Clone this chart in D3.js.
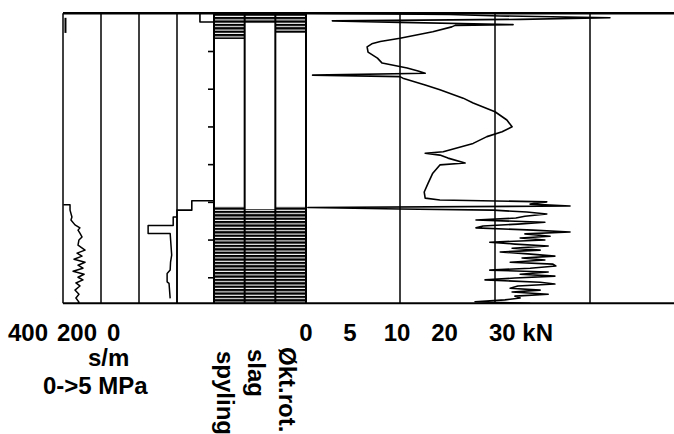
<!DOCTYPE html>
<html>
<head>
<meta charset="utf-8">
<script src="https://cdn.jsdelivr.net/npm/d3@7"></script>
<style>
body { margin: 0; background: #fff; }
svg { display: block; }
text { font-family: "Liberation Sans", Arial, sans-serif; font-weight: bold; fill: #000; }
</style>
</head>
<body>
<svg></svg>
<script>
const SVG_WIDTH = 674;
const SVG_HEIGHT = 434;
const TOP = 13.3;
const BOTTOM = 303.3;
const LEFT = 63;
const RIGHT = 674;
const LABEL_Y = 341;
const FONT = 24;
const SM_LABEL_X = [8, 57, 107];

// depth in m
const maxDepth = 7.69;
const depthTicks = [1, 2, 3, 4, 5, 6, 7];

// penetration time s/m (left column)
const smTicks = [400, 200, 0];
const smDepth = [5.08, 5.08, 5.22, 5.40, 5.48, 5.61, 5.69, 5.75, 5.83, 5.93, 6.01, 6.15, 6.28, 6.36, 6.44, 6.52, 6.60, 6.68, 6.76, 6.84, 6.92, 7.00, 7.07, 7.15, 7.23, 7.34, 7.45, 7.55, 7.66, 7.69];
const smValue = [398, 363, 363, 353, 358, 337, 311, 321, 311, 300, 316, 321, 284, 326, 300, 342, 284, 321, 295, 347, 289, 321, 295, 332, 311, 337, 316, 332, 316, 321];
const smTopDepth = [0.12, 0.52];
const smTopValue = [387, 387];

// pressure 0->5 MPa
const mpaDepth = [5.40, 5.40, 5.63, 5.63, 5.84, 5.84, 6.41, 6.60, 6.81, 6.90, 7.12, 7.16, 7.56];
const mpaValue = [0, 0.5, 0.5, 3.8, 3.8, 0.9, 0.7, 0.85, 0.9, 1.3, 1.3, 1.05, 0.9];

// layer step profile
const stepDepth = [0, 0.23, 0.23, 4.97, 4.97, 5.22, 5.22, 7.69];
const stepValue = [0.38, 0.38, 0, 0, 0.6, 0.6, 1, 1];

// flushing / hammering / increased rotation intervals
const hatchColumns = ["spyling", "slag", "Økt.rot."];
const hatchFrom = [[0, 5.13], [0, 5.19], [0, 5.13]];
const hatchTo = [[0.68, 7.69], [0.26, 7.69], [0.52, 7.69]];

// feed force kN
const forceTicks = [0, 5, 10, 20, 30];
const forceUnit = "kN";
const forceDepth = [0.00, 0.03, 0.07, 0.12, 0.16, 0.20, 0.24, 0.30, 0.32, 0.36, 0.49, 0.66, 0.75, 0.81, 0.89, 1.03, 1.19, 1.32, 1.45, 1.53, 1.59, 1.64, 1.68, 1.72, 1.90, 2.03, 2.25, 2.38, 2.61, 2.83, 3.01, 3.14, 3.27, 3.45, 3.67, 3.71, 3.76, 3.84, 3.97, 4.02, 4.24, 4.51, 4.74, 4.90, 4.95, 5.00, 5.06, 5.11, 5.15, 5.19, 5.22,
  5.27, 5.32, 5.38, 5.43, 5.48, 5.54, 5.59, 5.64, 5.69, 5.75, 5.80, 5.85, 5.91, 5.96, 6.01, 6.07, 6.12, 6.17, 6.23, 6.28, 6.33, 6.38, 6.44, 6.49, 6.54, 6.60, 6.65, 6.70, 6.76, 6.81, 6.86, 6.92, 6.97, 7.02, 7.07, 7.13, 7.18, 7.23, 7.29, 7.34, 7.39, 7.45, 7.50, 7.55, 7.60, 7.65, 7.69];
const forceKN = [0, 20.5, 31.1, 54.2, 35.3, 2.8, 10, 33.8, 21.6, 20.9, 16.9, 10, 7.9, 7.0, 6.5, 6.6, 7.6, 8.1, 11.5, 13.8, 15.3, 0.7, 10, 10.6, 15.3, 18.4, 23.3, 25.4, 30, 32.5, 33.6, 31.5, 28.3, 25.4, 19.1, 15.3, 18.4, 20.1, 23.7, 18.4, 16.9, 15.9, 15.1, 15.3, 18.4, 40.9, 37.4, 45.8, 0.2, 10, 29.6,
  36.7, 40.9, 36.3, 34.4, 26.0, 40.5, 34.8, 27.5, 26.0, 38.0, 45.8, 36.3, 41.6, 35.3, 40.5, 28.9, 34.2, 41.2, 33.6, 39.5, 31.1, 36.9, 42.6, 35.7, 40.5, 33.2, 42.2, 42.8, 37.4, 28.9, 41.2, 35.3, 42.6, 34.2, 27.9, 39.5, 42.6, 34.8, 33.2, 39.5, 33.6, 41.2, 34.2, 35.3, 32.1, 25.8, 37.4];

const svg = d3.select("svg").attr("width", SVG_WIDTH).attr("height", SVG_HEIGHT);

const yScale = d3.scaleLinear().domain([0, maxDepth]).range([TOP, BOTTOM]);
const smScale = d3.scaleLinear().domain([0, 400]).range([139, 63]);
const mpaScale = d3.scaleLinear().domain([0, 5]).range([177, 139]);
const stepScale = d3.scaleLinear().domain([0, 1]).range([214, 177]);
const hatchScale = d3.scaleBand().domain(hatchColumns).range([214, 306]);
const forceScale = d3.scaleLinear().domain([0, 10, 30, 50]).range([306, 400, 495, 590]);

// hatch pattern
svg.append("defs").append("pattern")
  .attr("id", "hatch")
  .attr("patternUnits", "userSpaceOnUse")
  .attr("width", 8).attr("height", 3.4)
  .append("rect").attr("width", 8).attr("height", 2.3).attr("fill", "#000");

hatchColumns.forEach(function(col, i) {
  svg.append("g").selectAll("rect")
    .data(hatchFrom[i])
    .enter()
    .append("rect")
    .attr("x", hatchScale(col))
    .attr("width", hatchScale.bandwidth())
    .attr("y", function(d) { return yScale(d); })
    .attr("height", function(d, j) { return yScale(hatchTo[i][j]) - yScale(d); })
    .attr("fill", "url(#hatch)");
});

// column lines
const gridX = [smScale(400), smScale(200), smScale(0), mpaScale(0), stepScale(0)]
  .concat(hatchColumns.slice(1).map(function(c) { return hatchScale(c); }))
  .concat([forceScale(0), forceScale(10), forceScale(30), forceScale(50)]);
svg.append("g").selectAll("line")
  .data(gridX)
  .enter()
  .append("line")
  .attr("x1", function(d) { return d; })
  .attr("x2", function(d) { return d; })
  .attr("y1", TOP)
  .attr("y2", BOTTOM)
  .attr("stroke", "#000")
  .attr("stroke-width", function(d, i) { return i >= 4 && i <= 7 ? 2 : 1.5; });

// depth ticks
const depthAxis = d3.axisLeft(yScale).tickValues(depthTicks).tickSize(6).tickFormat("");
svg.append("g")
  .attr("transform", "translate(" + stepScale(0) + ",0)")
  .call(depthAxis)
  .call(function(g) { g.select(".domain").remove(); })
  .selectAll("line").attr("stroke", "#000").attr("stroke-width", 1.6);

function drawCurve(depths, values, xs, width) {
  const line = d3.line()
    .x(function(d) { return xs(values[d]); })
    .y(function(d) { return yScale(depths[d]); });
  svg.append("path")
    .attr("d", line(d3.range(depths.length)))
    .attr("fill", "none")
    .attr("stroke", "#000")
    .attr("stroke-width", width)
    .attr("stroke-linejoin", "round");
}

drawCurve(smDepth, smValue, smScale, 1.5);
drawCurve(smTopDepth, smTopValue, smScale, 2);
drawCurve(mpaDepth, mpaValue, mpaScale, 1.5);
drawCurve(stepDepth, stepValue, stepScale, 1.6);
drawCurve(forceDepth, forceKN, forceScale, 1.6);

// frame top / bottom
svg.append("line").attr("x1", LEFT).attr("x2", RIGHT).attr("y1", TOP).attr("y2", TOP)
  .attr("stroke", "#000").attr("stroke-width", 2.6);
svg.append("line").attr("x1", LEFT).attr("x2", RIGHT).attr("y1", BOTTOM).attr("y2", BOTTOM)
  .attr("stroke", "#000").attr("stroke-width", 2);

// labels
svg.append("g").selectAll("text")
  .data(smTicks)
  .enter()
  .append("text")
  .attr("x", function(d, i) { return SM_LABEL_X[i]; })
  .attr("y", LABEL_Y)
  .attr("font-size", FONT)
  .text(function(d) { return d; });

svg.append("text").attr("x", 88).attr("y", 366).attr("font-size", FONT).text("s/m");
svg.append("text").attr("x", 43).attr("y", 394).attr("font-size", FONT).text("0->5 MPa");

const lastTick = forceTicks[forceTicks.length - 1];
svg.append("g").selectAll("text")
  .data(forceTicks)
  .enter()
  .append("text")
  .attr("x", function(d) { return d === lastTick ? forceScale(d) - 6 : forceScale(d) - (d > 0 ? 3 : 0); })
  .attr("y", LABEL_Y)
  .attr("text-anchor", function(d) { return d === lastTick ? "start" : "middle"; })
  .attr("font-size", FONT)
  .text(function(d) { return d === lastTick ? d + " " + forceUnit : d; });

svg.append("g").selectAll("text")
  .data(hatchColumns)
  .enter()
  .append("text")
  .attr("transform", function(d, i) {
    return "translate(" + (hatchScale(d) + 3 + i * 0.5) + "," + (351 - i * 2) + ") rotate(90)";
  })
  .attr("font-size", FONT)
  .text(function(d) { return d; });
</script>
</body>
</html>
